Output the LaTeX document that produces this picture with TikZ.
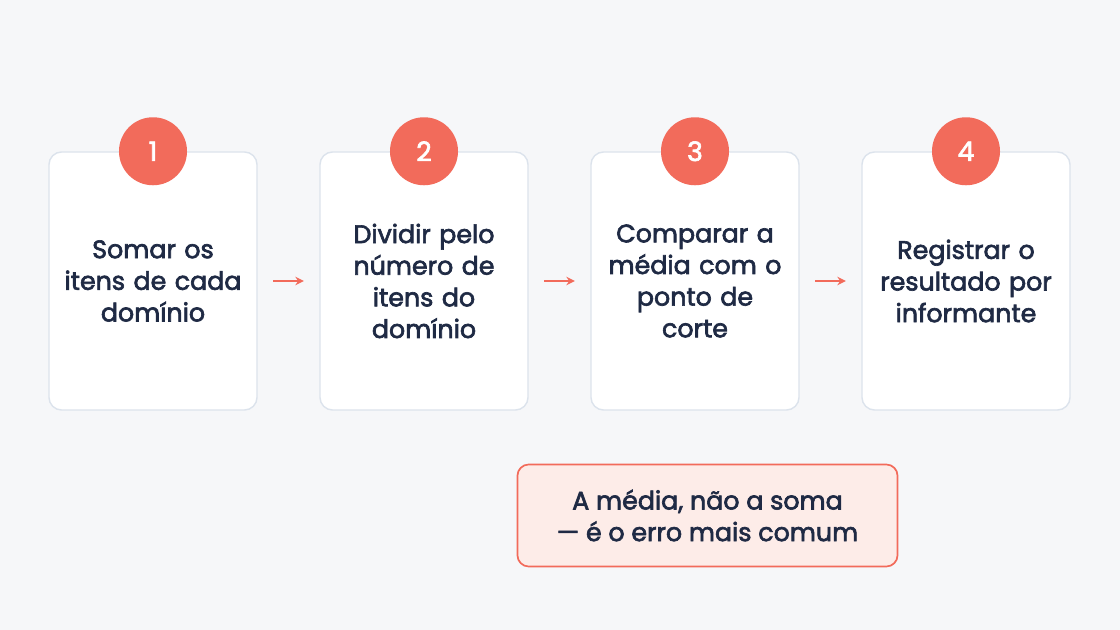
\documentclass[tikz,border=0pt]{standalone}
\usepackage{fontspec}
\setmainfont{Poppins}
\usetikzlibrary{positioning,arrows.meta}
\definecolor{bgc}{HTML}{F6F7F9}
\definecolor{edgec}{HTML}{DCE3EC}
\definecolor{coral}{HTML}{F26B5B}
\definecolor{ink}{HTML}{1F2A44}
\definecolor{pinkc}{HTML}{FDECE8}
\newcommand\thickon{\special{pdf:literal direct 0.45 w 2 Tr}}
\newcommand\thickoff{\special{pdf:literal direct 0 Tr}}
\begin{document}
\begin{tikzpicture}[x=0.025cm,y=-0.025cm,
     txt/.style={execute at begin node=\thickon, execute at end node=\thickoff},
     card/.style={txt, draw=edgec, line width=1pt, fill=white, rounded corners=9pt,
       minimum width=5.2cm, minimum height=6.45cm, text width=4.6cm, align=center,
       font=\fontsize{18}{22.5}\selectfont, text=ink},
     num/.style={txt, circle, fill=coral, minimum size=1.7cm, inner sep=0pt,
       font=\fontsize{19}{22}\selectfont, text=white},
     link/.style={-{Stealth[length=6pt,width=6pt]}, coral, line width=1.4pt}
   ]
\fill[bgc] (0,0) rectangle (1120,630);
% Draw the cards
\node (c1) [card] at (153,281) {Somar os\\itens de cada\\domínio};
\node (c2) [card] at (424,281) {Dividir pelo\\número de\\itens do\\domínio};
\node (c3) [card] at (695,281) {Comparar a\\média com o\\ponto de\\corte};
\node (c4) [card] at (966,281) {Registrar o\\resultado por\\informante};
% the numbers on top
\foreach \i in {1,...,4}
  \node (n\i) [num] at (c\i.north) {\i};
% connect the cards
\draw[link] ([xshift=11pt]c1.east) -- ([xshift=-11pt]c2.west);
\draw[link] ([xshift=11pt]c2.east) -- ([xshift=-11pt]c3.west);
\draw[link] ([xshift=11pt]c3.east) -- ([xshift=-11pt]c4.west);
% the note
\node (note) [txt, draw=coral, fill=pinkc, line width=1.2pt, rounded corners=8pt,
  minimum width=9.5cm, minimum height=2.55cm, align=center, text=ink,
  font=\fontsize{18}{22.5}\selectfont] at (707.5,515.5)
  {A média, não a soma\\— é o erro mais comum};
\end{tikzpicture}
\end{document}
